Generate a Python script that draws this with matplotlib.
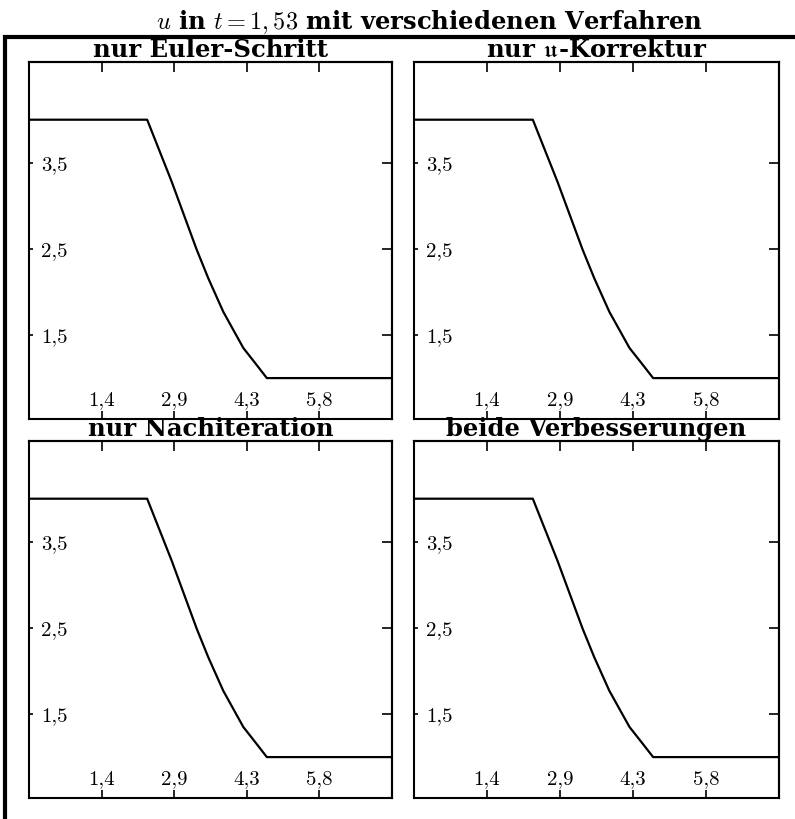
"""
u in t = 1,53 mit verschiedenen Verfahren -- 2x2 Vergleich.
"""
import matplotlib
matplotlib.use("Agg")
import matplotlib.pyplot as plt
import matplotlib.patches as mpatches

# ---------------------------------------------------------------------------
# Daten
# ---------------------------------------------------------------------------

TITLES = ["nur Euler-Schritt", r"nur $\mathfrak{u}$-Korrektur",
          "nur Nachiteration", "beide Verbesserungen"]

X_PTS = [0.0, 2.36, 2.85, 3.35, 3.58, 3.88, 4.28, 4.55, 4.75, 7.25]
U_PTS = [4.0, 4.0, 3.28, 2.49, 2.16, 1.77, 1.35, 1.15, 1.0, 1.0]

XTICKS = [0.0, 1.45, 2.9, 4.35, 5.8, 7.25]
XTICK_LABELS = ["", "1,4", "2,9", "4,3", "5,8", ""]
YTICKS = [1.5, 2.5, 3.5]
YTICK_LABELS = ["1,5", "2,5", "3,5"]

XLIM = (0.0, 7.25)
YLIM = (0.525, 4.67)

# ---------------------------------------------------------------------------
# Layout
# ---------------------------------------------------------------------------

W, H = 795, 819
plt.rcParams["font.family"] = ["cmr10"]
plt.rcParams["mathtext.fontset"] = "cm"
plt.rcParams["axes.unicode_minus"] = False

TITLE_FONT = dict(fontfamily="DejaVu Serif", fontweight="bold", fontsize=17.5)

fig = plt.figure(figsize=(W / 100, H / 100), dpi=100)

# Panel-Kanten in Pixeln (links, rechts, oben, unten)
boxes = [
    (29, 392, 62, 419),
    (414, 779, 62, 419),
    (29, 392, 441, 798),
    (414, 779, 441, 798),
]

for (l, r, t, b), title in zip(boxes, TITLES):
    ax = fig.add_axes([l / W, 1 - b / H, (r - l) / W, (b - t) / H])
    ax.plot(X_PTS, U_PTS, color="black", lw=1.6)
    ax.set_xlim(*XLIM)
    ax.set_ylim(*YLIM)

    for s in ax.spines.values():
        s.set_linewidth(1.5)

    ax.set_xticks(XTICKS)
    ax.set_xticklabels(XTICK_LABELS)
    ax.set_yticks(YTICKS)
    ax.set_yticklabels(YTICK_LABELS)
    ax.tick_params(axis="x", direction="in", length=6, width=1.2,
                   labelsize=15, pad=-20)
    ax.tick_params(axis="y", direction="in", length=3, width=1.2,
                   labelsize=15, pad=-8.5)
    for lab in ax.get_yticklabels():
        lab.set_horizontalalignment("left")

    # obere / rechte Achse mit längeren Strichen
    top = ax.secondary_xaxis("top")
    top.set_xticks(XTICKS)
    top.tick_params(direction="in", length=7, width=1.2, labeltop=False)
    top.spines["top"].set_linewidth(1.5)
    right = ax.secondary_yaxis("right")
    right.set_yticks(YTICKS)
    right.tick_params(direction="in", length=7, width=1.2, labelright=False)
    right.spines["right"].set_linewidth(1.5)

    ax.set_title(title, pad=2, **TITLE_FONT)

# Überschrift: mittig über dem (rechts abgeschnittenen) Gesamtrahmen
fig.text(429 / W, 1 - 22 / H, r"$u$ in $t=1,53$ mit verschiedenen Verfahren",
         ha="center", va="center", **TITLE_FONT)

# äußerer Rahmen
frame = mpatches.Rectangle((5 / W, -0.05), 1.2, 1 - 37 / H + 0.05,
                           transform=fig.transFigure, fill=False,
                           lw=3, edgecolor="black", clip_on=False)
fig.patches.append(frame)

fig.savefig("out.png", dpi=100)
